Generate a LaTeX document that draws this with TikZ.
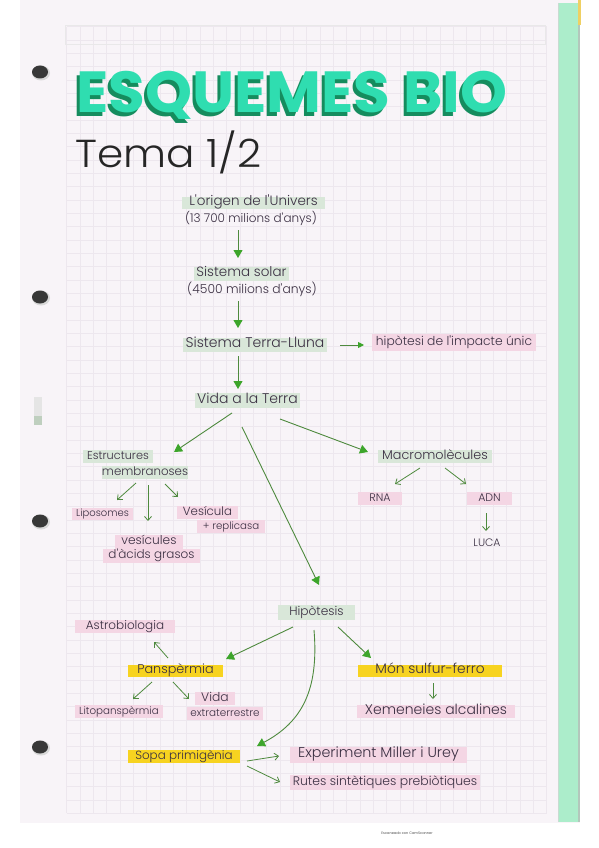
\documentclass[tikz,border=0pt]{standalone}
\usepackage{fontspec}
\setmainfont{Poppins}
\newfontfamily\lightfont{Poppins Light}
\usetikzlibrary{arrows.meta,calc}
\definecolor{paper}{HTML}{F8F4F8}
\definecolor{gridc}{HTML}{EDE7EE}
\definecolor{hlgreen}{HTML}{D9E7D9}
\definecolor{hlpink}{HTML}{F4D6E4}
\definecolor{hlyellow}{HTML}{F7D320}
\definecolor{ink}{HTML}{3A2F42}
\definecolor{linec}{HTML}{4E8A3E}
\definecolor{headc}{HTML}{3DA52B}
\definecolor{mint}{HTML}{2FDDB0}
\definecolor{mintdark}{HTML}{158C5E}
\definecolor{strip}{HTML}{ACEDCB}
\definecolor{stripedge}{HTML}{EFD063}
\newcommand\fsz[1]{\fontsize{#1}{#1}\selectfont}
% highlight + text: colour, cx, cy, w, h, name, size, text
\newcommand\hlnode[8]{%
  \fill[#1] ({#2-#4/2},{#3-#5/2}) rectangle ({#2+#4/2},{#3+#5/2});
  \node[txt,font=\lightfont\fsz{#7}] (#6) at (#2,#3) {#8};}
\newcommand\titletext{ESQUEMES BIO}
\begin{document}
\begin{tikzpicture}[x=1pt,y=-1pt,
  txt/.style={inner sep=0pt,text=ink,text height=0.7em,text depth=0.2em,anchor=center},
  big/.style={draw=linec,line width=0.9pt,-{Triangle[length=8pt,width=9pt,color=headc]}},
  mid/.style={draw=linec,line width=0.9pt,-{Triangle[length=6pt,width=6pt,color=headc]}},
  small/.style={draw=linec,line width=0.8pt,-{Straight Barb[length=4pt,width=7pt]}},
  hole/.style={fill=black!78}]
\useasboundingbox (0,0) rectangle (599,848);
% page
\fill[white] (0,0) rectangle (599,848);
\fill[paper] (20,0) rectangle (580,823);
\foreach \gx in {0,...,36}{\draw[gridc,line width=0.35pt] ({66.65+13.33*\gx},26.66) -- ({66.65+13.33*\gx},813);}
\foreach \gy in {0,...,59}{\draw[gridc,line width=0.35pt] (66.65,{26.66+13.33*\gy}) -- (546.5,{26.66+13.33*\gy});}
\draw[gridc!70!black!25,line width=0.5pt] (65,25) rectangle (545,44);
\fill[strip] (558,3) rectangle (578,822);
\draw[strip!70!black!40,line width=0.5pt] (558,3) -- (558,822);
\fill[stripedge] (578,0) rectangle (581,25);
\fill[strip!60!black!50] (578,25) rectangle (580,822);
% holes
\foreach \hy in {72,297,521,747}{\fill[black!15] (41,\hy+1) ellipse (9 and 7.5);\fill[hole] (40,\hy) ellipse (8 and 6.5);}
% scanner mark
\fill[black!10] (34,397) rectangle (42,425);
\fill[green!25!black!25] (34,416) rectangle (42,425);
% title (shadow and face in one text)
\node[font=\fsz{58}\bfseries,anchor=base west,inner sep=0] (title) at (76,113)
  {\scalebox{1.03}[1]{\makebox[0pt][l]{\raisebox{-4pt}{\hspace{-3pt}\textcolor{mintdark}{\titletext}}}\textcolor{mint}{\titletext}}};
\node[font=\lightfont\fsz{39},text=black!85,anchor=base west,inner sep=0] (tema) at (75,167) {\scalebox{1.08}[1]{Tema 1/2}};
% nodes
\hlnode{hlgreen}{253.5}{203}{143}{12}{orig1}{13.5}{L'origen de l'Univers}
\node[txt,font=\lightfont\fsz{12}] (orig2) at (251,220) {(13 700 milions d'anys)};
\hlnode{hlgreen}{241.5}{274}{95}{14}{sol1}{13.5}{Sistema solar}
\node[txt,font=\lightfont\fsz{12.3}] (sol2) at (252,291) {(4500 milions d'anys)};
\hlnode{hlgreen}{255}{345}{144}{14}{tl}{14}{Sistema Terra-Lluna}
\hlnode{hlpink}{454}{342.5}{164}{17}{imp}{12.3}{hipòtesi de l'impacte únic}
\hlnode{hlgreen}{247.5}{400.5}{105}{15}{vida}{14}{Vida a la Terra}
\hlnode{hlgreen}{118}{456.5}{70}{13}{est1}{11.3}{Estructures}
\hlnode{hlgreen}{145}{472.5}{86}{13}{est2}{11.8}{membranoses}
\hlnode{hlgreen}{435}{456.5}{114}{13}{macro}{12.8}{Macromolècules}
\hlnode{hlpink}{102.5}{514}{61}{12}{lipo}{10}{Liposomes}
\hlnode{hlpink}{149}{542}{68}{14}{ves1}{12.2}{vesícules}
\hlnode{hlpink}{151.5}{556}{97}{14}{ves2}{12}{d'àcids grasos}
\hlnode{hlpink}{207.5}{512.5}{61}{13}{vr1}{11.8}{Vesícula}
\hlnode{hlpink}{231}{526.5}{68}{13}{vr2}{10.2}{+ replicasa}
\hlnode{hlpink}{380}{498.5}{44}{13}{rna}{11}{RNA}
\hlnode{hlpink}{489.5}{498.5}{45}{13}{adn}{11}{ADN}
\node[txt,font=\lightfont\fsz{10.8}] (luca) at (487,544) {LUCA};
\hlnode{hlgreen}{316.5}{612.5}{77}{15}{hip}{12.2}{Hipòtesis}
\hlnode{hlpink}{125}{626.5}{100}{13}{astro}{12}{Astrobiologia}
\hlnode{hlyellow}{175.5}{671}{95}{12}{pans}{12.8}{Panspèrmia}
\hlnode{hlyellow}{430}{671}{144}{12}{mon}{13.8}{Món sulfur-ferro}
\hlnode{hlpink}{119}{711.5}{88}{13}{lito}{10.3}{Litopanspèrmia}
\hlnode{hlpink}{215}{698.5}{40}{13}{ve1}{12.3}{Vida}
\hlnode{hlpink}{225}{713.5}{76}{13}{ve2}{10.4}{extraterrestre}
\hlnode{hlpink}{436}{711.5}{158}{13}{xem}{14}{Xemeneies alcalines}
\hlnode{hlyellow}{184}{756.5}{112}{13}{sopa}{11.9}{Sopa primigènia}
\hlnode{hlpink}{378.5}{755}{177}{16}{exp}{14.3}{Experiment Miller i Urey}
\hlnode{hlpink}{385}{782.5}{190}{15}{rutes}{12.4}{Rutes sintètiques prebiòtiques}
% connectors
\draw[big] ($(orig2)+(-13,10)$) -- ($(sol1)+(-3.5,-16)$);
\draw[big] ($(sol2)+(-14,10)$) -- ($(tl)+(-17,-17)$);
\draw[big] ($(tl)+(-17,11)$) -- ($(vida)+(-9.5,-11.5)$);
\draw[mid] ($(tl)+(85,0)$) -- ($(imp)+(-90,2.5)$);
\draw[big] ($(vida)+(-15.5,12.5)$) -- ($(est1)+(56,-4.5)$);
\draw[big] ($(vida)+(32.5,18.5)$) -- ($(macro)+(-67,-4.5)$);
\draw[big] ($(vida)+(-5.5,26.5)$) -- ($(hip)+(2.5,-27.5)$);
\draw[small] ($(est2)+(-9,10.5)$) -- ($(lipo)+(14.5,-14)$);
\draw[small] ($(est2)+(3,12.5)$) -- ($(ves1)+(-1,-21)$);
\draw[small] ($(est2)+(20,11.5)$) -- ($(vr1)+(-29.5,-15.5)$);
\draw[small] ($(macro)+(-15,11.5)$) -- ($(rna)+(15,-14.5)$);
\draw[small] ($(macro)+(10,11.5)$) -- ($(adn)+(-23.5,-14.5)$);
\draw[small] ($(adn)+(-3.5,14.5)$) -- ($(luca)+(-1,-13)$);
\draw[big] ($(hip)+(-23.5,14.5)$) -- ($(pans)+(50.5,-12)$);
\draw[big] ($(hip)+(21.5,14.5)$) -- ($(mon)+(-59,-13)$);
\draw[big] ($(hip)+(-2.5,17.5)$) .. controls (319,690) and (302,722) .. ($(sopa)+(73,-10.5)$);
\draw[small] ($(pans)+(-7.5,-13)$) -- ($(astro)+(29,15.5)$);
\draw[small] ($(pans)+(-23.5,11)$) -- ($(lito)+(14,-12.5)$);
\draw[small] ($(pans)+(-2.5,11)$) -- ($(ve1)+(-26,0.5)$);
\draw[small] ($(mon)+(3,12)$) -- ($(xem)+(-3,-12.5)$);
\draw[small] ($(sopa)+(63,4.5)$) -- ($(exp)+(-99.5,1)$);
\draw[small] ($(sopa)+(63,9.5)$) -- ($(rutes)+(-105,-0.5)$);
% scanner footer
\node[font=\fsz{3.5},text=black!70,inner sep=0] (scan) at (407,833) {Escaneado con CamScanner};
\end{tikzpicture}
\end{document}
